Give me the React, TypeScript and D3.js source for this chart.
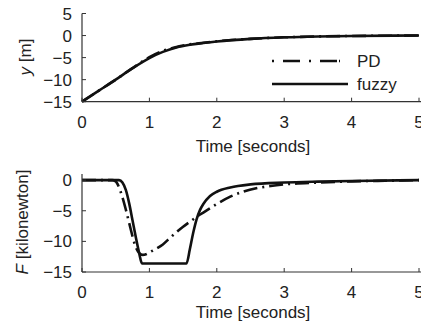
import React from "react";
import * as d3 from "d3";

// ---- data ----
const timeTop = [0, 0.25, 0.5, 0.75, 1.0, 1.2, 1.4, 1.6, 1.8, 2.0, 2.5, 3.0, 3.5, 4.0, 5.0];
const yFuzzy = [-15, -12.5, -10.0, -7.4, -5.1, -3.7, -2.7, -2.1, -1.7, -1.35, -0.75, -0.4, -0.2, -0.1, 0];
const yPD = [-15, -12.5, -10.0, -7.4, -4.9, -3.5, -2.6, -2.0, -1.65, -1.3, -0.75, -0.4, -0.2, -0.1, 0];

const timeFPD = [0, 0.45, 0.5, 0.55, 0.6, 0.65, 0.7, 0.75, 0.8, 0.85, 0.9, 0.95, 1.0, 1.1, 1.2, 1.3, 1.4, 1.5, 1.6, 1.7, 1.8, 1.9, 2.0, 2.2, 2.4, 2.6, 2.8, 3.0, 3.5, 4.0, 4.5, 5.0];
const fPD = [0, 0, -0.2, -1.2, -2.8, -4.8, -7.0, -9.2, -11.0, -11.9, -12.2, -12.1, -11.8, -11.2, -10.5, -9.5, -8.5, -7.6, -6.8, -6.0, -5.3, -4.6, -3.9, -2.7, -1.85, -1.3, -0.95, -0.7, -0.4, -0.2, -0.1, 0];

const timeFFz = [0, 0.55, 0.6, 0.65, 0.7, 0.75, 0.8, 0.85, 0.89, 1.55, 1.6, 1.65, 1.7, 1.75, 1.8, 1.9, 2.0, 2.2, 2.5, 3.0, 3.5, 4.0, 5.0];
const fFuzzy = [0, 0, -0.4, -1.6, -3.8, -6.6, -9.4, -12.0, -13.6, -13.6, -11.3, -8.6, -6.4, -4.9, -3.9, -2.6, -1.9, -1.2, -0.7, -0.4, -0.25, -0.15, 0];

const xTicks = [0, 1, 2, 3, 4, 5];
const yTicksTop = [5, 0, -5, -10, -15];
const yTicksBottom = [0, -5, -10, -15];
const legendLabels = ["PD", "fuzzy"];

const FONT = "'Liberation Sans', Arial, Helvetica, sans-serif";
const FS = 17;
const AXIS = "#333";
const LINE = "#111";
const DASH = "14,5,2,5";

type PanelProps = {
  yDomain: [number, number];
  yRange: [number, number];
  yTicks: number[];
  series: { t: number[]; v: number[]; dash?: string }[];
  xLabelY: number;
  titleY: number;
  yLabel: React.ReactNode;
  yLabelCenter: number;
  yLabelX: number;
  legend?: boolean;
};

const x = d3.scaleLinear().domain([0, 5]).range([82, 419]);

function Panel(p: PanelProps) {
  const y = d3.scaleLinear().domain(p.yDomain).range(p.yRange);
  const y0 = p.yRange[0];
  const line = d3
    .line<[number, number]>()
    .x((d) => x(d[0]))
    .y((d) => y(d[1]))
    .curve(d3.curveMonotoneX);
  return (
    <g>
      {p.series.map((s, i) => (
        <path
          key={i}
          d={line(s.t.map((t, j) => [t, s.v[j]]) as [number, number][]) || ""}
          fill="none"
          stroke={LINE}
          strokeWidth={2.6}
          strokeDasharray={s.dash}
          strokeLinejoin="round"
        />
      ))}
      {/* axes */}
      <line x1={x(0)} x2={x(0)} y1={p.yRange[1]} y2={y0} stroke={AXIS} strokeWidth={1.2} />
      <line x1={x(0)} x2={421} y1={y0} y2={y0} stroke={AXIS} strokeWidth={1.2} />
      {xTicks.map((t) => (
        <g key={"x" + t}>
          <line x1={x(t)} x2={x(t)} y1={y0} y2={y0 - 4} stroke={AXIS} strokeWidth={1} />
          <text x={x(t)} y={p.xLabelY} textAnchor="middle" fontFamily={FONT} fontSize={FS} fill="#222">
            {t}
          </text>
        </g>
      ))}
      {p.yTicks.map((t) => (
        <g key={"y" + t}>
          <line x1={x(0)} x2={x(0) + 4} y1={y(t)} y2={y(t)} stroke={AXIS} strokeWidth={1} />
          <text x={72} y={y(t)} dy="0.36em" textAnchor="end" fontFamily={FONT} fontSize={FS} fill="#222">
            {t < 0 ? "\u2212" + Math.abs(t) : t}
          </text>
        </g>
      ))}
      <text x={253} y={p.titleY} textAnchor="middle" fontFamily={FONT} fontSize={FS} fill="#222">
        Time [seconds]
      </text>
      <text
        transform={`translate(${p.yLabelX},${p.yLabelCenter}) rotate(-90)`}
        textAnchor="middle"
        fontFamily={FONT}
        fontSize={FS}
        fill="#222"
      >
        {p.yLabel}
      </text>
      {p.legend && (
        <g>
          <line x1={272} x2={340} y1={61} y2={61} stroke={LINE} strokeWidth={2.6} strokeDasharray="2,9,17,9,2,9,17" />
          <text x={357} y={67} fontFamily={FONT} fontSize={FS} fill="#222">
            {legendLabels[0]}
          </text>
          <line x1={272} x2={348} y1={84} y2={84} stroke={LINE} strokeWidth={2.6} />
          <text x={357} y={90} fontFamily={FONT} fontSize={FS} fill="#222">
            {legendLabels[1]}
          </text>
        </g>
      )}
    </g>
  );
}

export default function App() {
  return (
    <svg
      width={421}
      height={330}
      style={{ position: "absolute", left: 0, top: 0, background: "#fff" }}
    >
      <Panel
        yDomain={[-15, 5]}
        yRange={[101.7, 13.5]}
        yTicks={yTicksTop}
        series={[
          { t: timeTop, v: yPD, dash: DASH },
          { t: timeTop, v: yFuzzy },
        ]}
        xLabelY={128}
        titleY={152}
        yLabel={
          <>
            <tspan fontStyle="italic">y</tspan> [m]
          </>
        }
        yLabelCenter={57}
        yLabelX={31}
        legend
      />
      <Panel
        yDomain={[-15, 1]}
        yRange={[272, 174]}
        yTicks={yTicksBottom}
        series={[
          { t: timeFPD, v: fPD, dash: DASH },
          { t: timeFFz, v: fFuzzy },
        ]}
        xLabelY={298}
        titleY={318}
        yLabel={
          <>
            <tspan fontStyle="italic">F</tspan>  [kilonewton]
          </>
        }
        yLabelCenter={222}
        yLabelX={28}
      />
    </svg>
  );
}
